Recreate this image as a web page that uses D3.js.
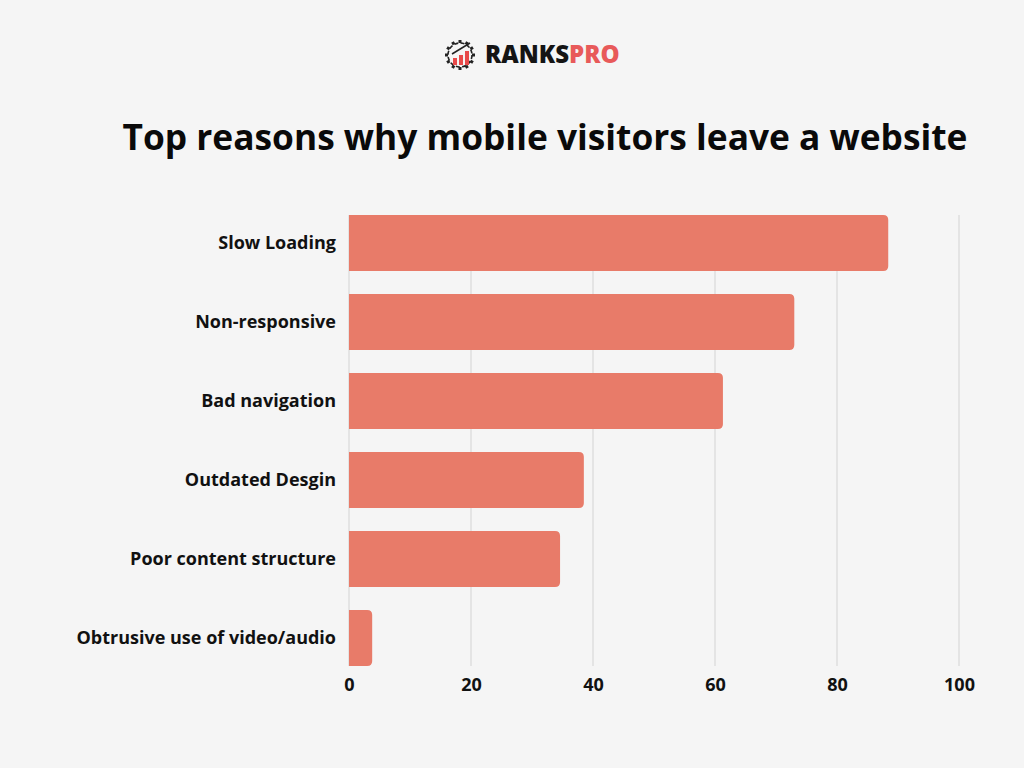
<!DOCTYPE html>
<html>
<head>
<meta charset="utf-8">
<script src="https://cdn.jsdelivr.net/npm/d3@7"></script>
<style>
  body { margin: 0; background: #f5f5f5; }
  svg { display: block; }
  text { font-family: "Open Sans", "DejaVu Sans", sans-serif; }
</style>
</head>
<body>
<svg id="chart"></svg>
<script>
// data
const reasons = ["Slow Loading", "Non-responsive", "Bad navigation", "Outdated Desgin", "Poor content structure", "Obtrusive use of video/audio"];
const percents = [88.4, 73, 61.3, 38.5, 34.6, 3.8];
const xTicks = [0, 20, 40, 60, 80, 100];

let config = { svg: {}, plot: {} };
config.svg.width = 1024;
config.svg.height = 768;
config.plot.left = 349;
config.plot.right = 959;
config.plot.top = 215;
config.plot.bottom = 666;

let barColor = "#e87b69";
let radius = 5;

let svg = d3.select("#chart")
  .attr("width", config.svg.width)
  .attr("height", config.svg.height);

svg.append("rect")
  .attr("width", config.svg.width)
  .attr("height", config.svg.height)
  .style("fill", "#f5f5f5");

let data = reasons.map((r, i) => ({ reason: r, value: percents[i] }));

let x = d3.scaleLinear()
  .domain([0, 100])
  .range([config.plot.left, config.plot.right]);

let y = d3.scaleBand()
  .domain(reasons)
  .range([config.plot.top, config.plot.bottom])
  .paddingInner(0.29)
  .paddingOuter(0);

// gridlines
svg.append("g")
  .attr("class", "grid")
  .selectAll("line")
  .data(xTicks)
  .enter()
  .append("line")
  .attr("x1", d => x(d))
  .attr("x2", d => x(d))
  .attr("y1", config.plot.top)
  .attr("y2", config.plot.bottom)
  .style("stroke", "#dedede")
  .style("stroke-width", 1.5);

// bars: square on the left, rounded on the right
function barPath(d) {
  let x0 = x(0), x1 = x(d.value);
  let y0 = y(d.reason), h = y.bandwidth();
  let r = Math.min(radius, (x1 - x0) / 2);
  return `M${x0},${y0} H${x1 - r} Q${x1},${y0} ${x1},${y0 + r} V${y0 + h - r} Q${x1},${y0 + h} ${x1 - r},${y0 + h} H${x0} Z`;
}

svg.append("g")
  .attr("id", "bars")
  .selectAll("path")
  .data(data)
  .enter()
  .append("path")
  .attr("d", barPath)
  .style("fill", barColor);

// category labels
let yaxis = d3.axisLeft(y).tickSize(0).tickPadding(13);
let yg = svg.append("g")
  .attr("transform", `translate(${config.plot.left}, 0)`)
  .call(yaxis);
yg.select(".domain").remove();
yg.selectAll("text")
  .style("font-size", "18px")
  .style("font-weight", 700)
  .style("fill", "#111");

// x axis tick labels
let xaxis = d3.axisBottom(x).tickValues(xTicks).tickSize(0).tickPadding(12);
let xg = svg.append("g")
  .attr("transform", `translate(0, ${config.plot.bottom})`)
  .call(xaxis);
xg.select(".domain").remove();
xg.selectAll("text")
  .style("font-size", "18px")
  .style("font-weight", 700)
  .style("fill", "#111");

// title
svg.append("text")
  .attr("x", 545)
  .attr("y", 150)
  .style("text-anchor", "middle")
  .style("font-size", "35.3px")
  .style("font-weight", 700)
  .style("fill", "#0a0a0a")
  .text("Top reasons why mobile visitors leave a website");

// logo
let logo = svg.append("g").attr("transform", "translate(460, 55)");
let gear = d3.range(0, 360, 30);
logo.append("circle")
  .attr("r", 12)
  .style("fill", "none")
  .style("stroke", "#222")
  .style("stroke-width", 1.6)
  .style("stroke-dasharray", "4 2.3");
logo.selectAll("rect.tooth")
  .data(gear)
  .enter()
  .append("rect")
  .attr("class", "tooth")
  .attr("x", -1.5)
  .attr("y", -15)
  .attr("width", 3)
  .attr("height", 3)
  .attr("transform", d => `rotate(${d})`)
  .style("fill", "#222");
logo.append("rect").attr("x", -7).attr("y", 3).attr("width", 4).attr("height", 7).style("fill", "#e84a4a");
logo.append("rect").attr("x", -1).attr("y", 0).attr("width", 4).attr("height", 10).style("fill", "#e84a4a");
logo.append("rect").attr("x", 5).attr("y", -4).attr("width", 4).attr("height", 14).style("fill", "#e84a4a");
logo.append("line")
  .attr("x1", -8).attr("y1", -1).attr("x2", 10).attr("y2", -12)
  .style("stroke", "#222").style("stroke-width", 1.5);

let brand = svg.append("text")
  .attr("x", 485)
  .attr("y", 63)
  .style("font-size", "24px")
  .style("font-weight", 800);
brand.append("tspan").text("RANKS").style("fill", "#141414");
brand.append("tspan").text("PRO").style("fill", "#e85a5a");
</script>
</body>
</html>
